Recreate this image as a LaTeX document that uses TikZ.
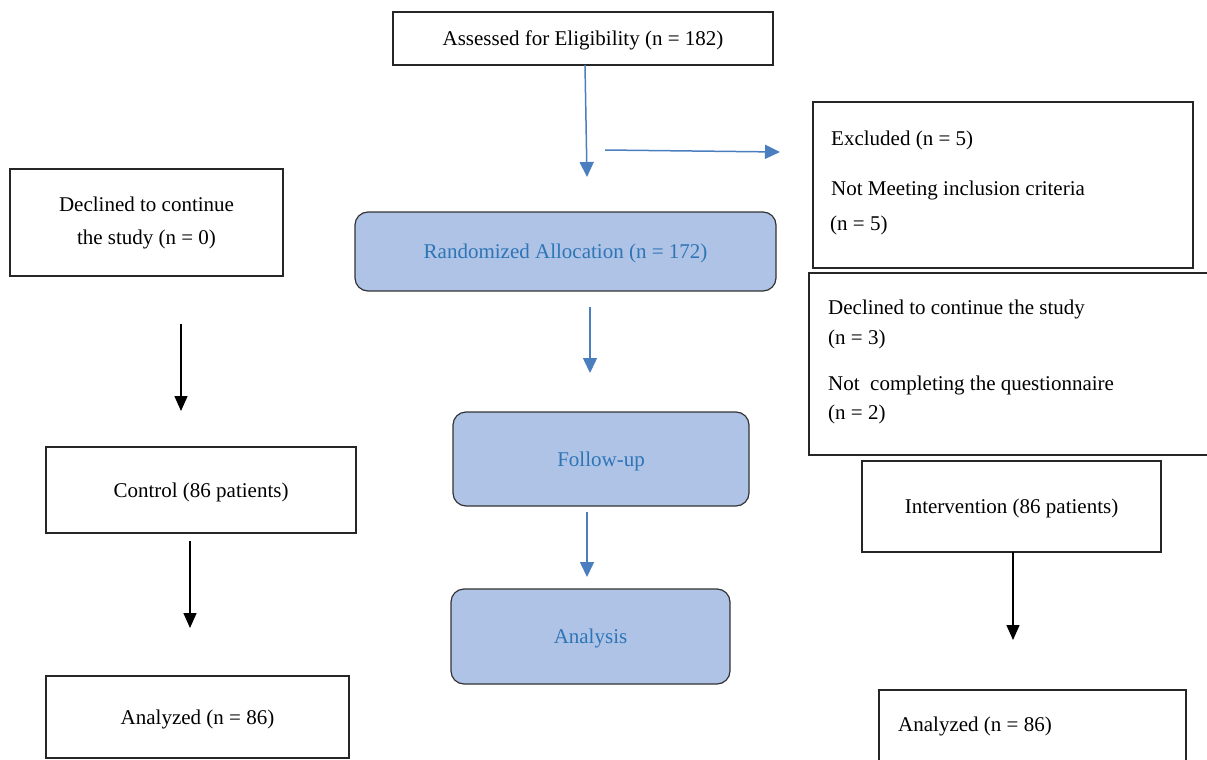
\documentclass[tikz,border=0pt]{standalone}
\usepackage{fontspec}
\setmainfont{Liberation Serif}
\usetikzlibrary{arrows.meta}
\definecolor{boxblue}{HTML}{AEC3E6}
\definecolor{txtblue}{HTML}{2E75B6}
\definecolor{arrblue}{HTML}{4A7EBF}
\begin{document}
\begin{tikzpicture}[x=1pt,y=-1pt,
  font=\fontsize{21}{33}\selectfont,
  plain/.style={draw=black!85, line width=1.2pt, inner sep=0pt, align=center},
  soft/.style={draw=black!80, line width=1.2pt, fill=boxblue, rounded corners=13pt, text=txtblue, inner sep=0pt},
  barrow/.style={draw=arrblue, line width=1.5pt, -{Triangle[length=15pt,width=14pt]}},
  karrow/.style={draw=black, line width=1.5pt, -{Triangle[length=15pt,width=13pt]}},
  lbl/.style={anchor=base west, inner sep=0pt},
  low/.style={text height=19pt, text depth=5pt}
]
\useasboundingbox (0,0) rectangle (1207,760);
\clip (0,0) rectangle (1207,760);

% boxes
\node[plain, low, minimum width=380pt, minimum height=53pt] (assess) at (583,38.5) {Assessed for Eligibility (n = 182)};
\node[plain, minimum width=380pt, minimum height=166pt] (excl) at (1003,185) {};
\node[plain, minimum width=406pt, minimum height=182pt] (declr) at (1012,364) {};
\node[plain, low, minimum width=299pt, minimum height=91pt] (interv) at (1011.5,506.5) {Intervention (86 patients)};
\node[plain, minimum width=307pt, minimum height=90pt] (analr) at (1032.5,735) {};
\node[plain, minimum width=273pt, minimum height=107pt] (decll) at (146.5,222.5) {Declined to continue\\the study (n = 0)};
\node[plain, low, minimum width=310pt, minimum height=86pt] (control) at (201,490) {Control (86 patients)};
\node[plain, low, minimum width=303pt, minimum height=82pt] (anall) at (197.5,717) {Analyzed (n = 86)};

\node[soft, low, minimum width=421pt, minimum height=79pt] (rand) at (565.5,251.5) {Randomized Allocation (n = 172)};
\node[soft, low, minimum width=296pt, minimum height=94pt] (follow) at (601,459) {Follow-up};
\node[soft, low, minimum width=279pt, minimum height=95pt] (analysis) at (590.5,636.5) {Analysis};

% left-aligned texts
\node[lbl] (t1) at (831,145) {Excluded (n = 5)};
\node[lbl] (t2) at (831,195) {Not Meeting inclusion criteria};
\node[lbl] (t3) at (830,230) {(n = 5)};
\node[lbl] (t4) at (828,314) {Declined to continue the study};
\node[lbl] (t5) at (828,344) {(n = 3)};
\node[lbl] (t6) at (828,390) {Not\ \ completing the questionnaire};
\node[lbl] (t7) at (828,419) {(n = 2)};
\node[lbl] (t8) at (898,731) {Analyzed (n = 86)};

% connector end points
\coordinate (a1s) at (585,65);  \coordinate (a1e) at (587,177);
\coordinate (a2s) at (605,150); \coordinate (a2e) at (780,152);
\coordinate (a3s) at (590,307); \coordinate (a3e) at (590,373);
\coordinate (a4s) at (587,512); \coordinate (a4e) at (587,577);
\coordinate (k1s) at (181,324); \coordinate (k1e) at (181,411);
\coordinate (k2s) at (190,541); \coordinate (k2e) at (190,628);
\coordinate (k3s) at (1013,552); \coordinate (k3e) at (1013,640);

\draw[barrow] (a1s) -- (a1e);
\draw[barrow] (a2s) -- (a2e);
\draw[barrow] (a3s) -- (a3e);
\draw[barrow] (a4s) -- (a4e);
\draw[karrow] (k1s) -- (k1e);
\draw[karrow] (k2s) -- (k2e);
\draw[karrow] (k3s) -- (k3e);
\end{tikzpicture}
\end{document}
